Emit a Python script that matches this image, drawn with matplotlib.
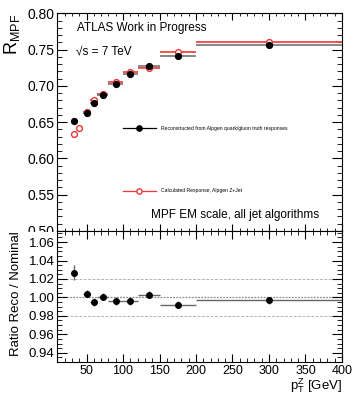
import numpy as np
import matplotlib
matplotlib.use("Agg")
import matplotlib.pyplot as plt
from matplotlib.ticker import MultipleLocator
from matplotlib.lines import Line2D

plt.rcParams['font.family'] = ['Liberation Sans', 'DejaVu Sans']
plt.rcParams['mathtext.fontset'] = 'custom'
plt.rcParams['mathtext.rm'] = 'Liberation Sans'
plt.rcParams['mathtext.it'] = 'Liberation Sans'

# reconstructed (black) response per pT bin
reco_x = [32.5, 50, 60, 72.5, 90, 110, 135, 175, 300]
reco_xerr = [2.5, 5, 5, 7.5, 10, 10, 15, 25, 100]
reco_y = [0.651, 0.663, 0.676, 0.688, 0.703, 0.716, 0.727, 0.741, 0.757]
reco_yerr = [0.001, 0.001, 0.001, 0.001, 0.001, 0.001, 0.001, 0.001, 0.001]

# calculated (red) response
calc_x = [32.5, 40, 50, 60, 72.5, 90, 110, 135, 175, 300]
calc_xerr = [2.5, 2.5, 5, 5, 7.5, 10, 10, 15, 25, 100]
calc_y = [0.633, 0.642, 0.664, 0.680, 0.689, 0.706, 0.719, 0.725, 0.746, 0.760]

# ratio reco / nominal
ratio_y = [1.027, 1.004, 0.995, 1.001, 0.996, 0.996, 1.003, 0.992, 0.997]
ratio_yerr = [0.008, 0.004, 0.004, 0.004, 0.004, 0.004, 0.004, 0.004, 0.004]
ref_lines = [0.98, 1.00, 1.02]

red = '#f03535'
W, H = 354, 395
fig = plt.figure(figsize=(W / 100, H / 100), dpi=100)

ax1 = fig.add_axes([57.3 / W, 1 - 231 / H, (342 - 57.3) / W, (231 - 13.3) / H])
ax2 = fig.add_axes([57.3 / W, 1 - 362 / H, (342 - 57.3) / W, (362 - 231) / H])

# white cover like the lower pad hiding part of the 0.50 label
fig.patches.append(plt.Rectangle((0, 0), 1, 1 - 232 / H, transform=fig.transFigure,
                                 facecolor='white', edgecolor='none', zorder=0.5, figure=fig))
ax1.set_zorder(0)
ax2.set_zorder(1)

# top panel
ax1.errorbar(calc_x, calc_y, xerr=calc_xerr, fmt='o', ms=4.2, mfc='white', mec=red,
             mew=1.0, ecolor=red, elinewidth=1.2, capsize=0, zorder=3)
ax1.errorbar(reco_x, reco_y, xerr=reco_xerr, yerr=reco_yerr, fmt='o', ms=4.2, color='black',
             ecolor='0.45', elinewidth=1.2, capsize=0, zorder=4)

ax1.set_xlim(10, 400)
ax1.set_ylim(0.5, 0.8)
ax1.xaxis.set_major_locator(MultipleLocator(50))
ax1.xaxis.set_minor_locator(MultipleLocator(10))
ax1.yaxis.set_minor_locator(MultipleLocator(0.01))
ax1.set_yticks(np.arange(0.5, 0.801, 0.05))
ax1.set_yticklabels(['%.2f' % v for v in np.arange(0.5, 0.801, 0.05)])
ax1.tick_params(axis='both', which='both', direction='in', top=True, right=True,
                labelbottom=False)
ax1.tick_params(axis='y', which='major', length=7, labelsize=10, pad=2)
ax1.tick_params(axis='y', which='minor', length=3.5)
ax1.tick_params(axis='x', which='major', length=5)
ax1.tick_params(axis='x', which='minor', length=2.5)
ax1.set_ylabel(r'$\mathrm{R}_{\mathrm{MPF}}$', fontsize=13, loc='top')
ax1.yaxis.set_label_coords(-0.125, 1.0)

ax1.text(0.07, 0.92, 'ATLAS Work in Progress', transform=ax1.transAxes, fontsize=8.5)
ax1.text(0.065, 0.81, '\u221as = 7 TeV', transform=ax1.transAxes, fontsize=8.5)
ax1.text(0.92, 0.06, 'MPF EM scale, all jet algorithms', transform=ax1.transAxes,
         fontsize=8.5, ha='right')

handles = [
    Line2D([], [], color='black', marker='o', ms=3.8, lw=0.9),
    Line2D([], [], color=red, marker='o', ms=3.8, mfc='white', mec=red, lw=0.9),
]
labels = ['Reconstructed from Alpgen quark/gluon truth responses',
          'Calculated Response, Alpgen Z+Jet']
ax1.legend(handles, labels, loc='center left', bbox_to_anchor=(0.231, 0.328),
           frameon=False, fontsize=3.6, handlelength=6.5, handletextpad=1.0,
           labelspacing=11.5, borderpad=0, borderaxespad=0)

# bottom panel
for v in ref_lines:
    ax2.axhline(v, color='0.55' if v == 1.0 else '0.7', lw=0.9 if v == 1.0 else 0.7,
                ls=(0, (1.5, 1)) if v == 1.0 else (0, (3, 1.5)), zorder=1)
ax2.errorbar(reco_x, ratio_y, xerr=reco_xerr, yerr=ratio_yerr, fmt='o', ms=4,
             color='black', ecolor='0.4', elinewidth=1.0, capsize=0, zorder=3)

ax2.set_xlim(10, 400)
ax2.set_ylim(0.93, 1.072)
ax2.xaxis.set_minor_locator(MultipleLocator(10))
ax2.yaxis.set_minor_locator(MultipleLocator(0.005))
ax2.set_yticks(np.arange(0.94, 1.061, 0.02))
ax2.set_yticklabels(['%.2f' % v for v in np.arange(0.94, 1.061, 0.02)])
ax2.set_xticks([50, 100, 150, 200, 250, 300, 350, 400])
ax2.tick_params(axis='both', which='both', direction='in', top=True, right=True)
ax2.tick_params(axis='y', which='major', length=7, labelsize=9.5, pad=2)
ax2.tick_params(axis='y', which='minor', length=3.5)
ax2.tick_params(axis='x', which='major', length=6, labelsize=9, pad=2)
ax2.tick_params(axis='x', which='minor', length=3)
ax2.set_ylabel('Ratio Reco / Nominal', fontsize=9.5, loc='top')
ax2.yaxis.set_label_coords(-0.125, 1.0)
ax2.set_xlabel(r'$\mathrm{p}_{\mathrm{T}}^{\mathrm{Z}}$ [GeV]', fontsize=9.5, loc='right')
ax2.xaxis.set_label_coords(1.0, -0.11)

for ax in (ax1, ax2):
    for s in ax.spines.values():
        s.set_linewidth(0.8)

fig.savefig('out.png', dpi=100)
